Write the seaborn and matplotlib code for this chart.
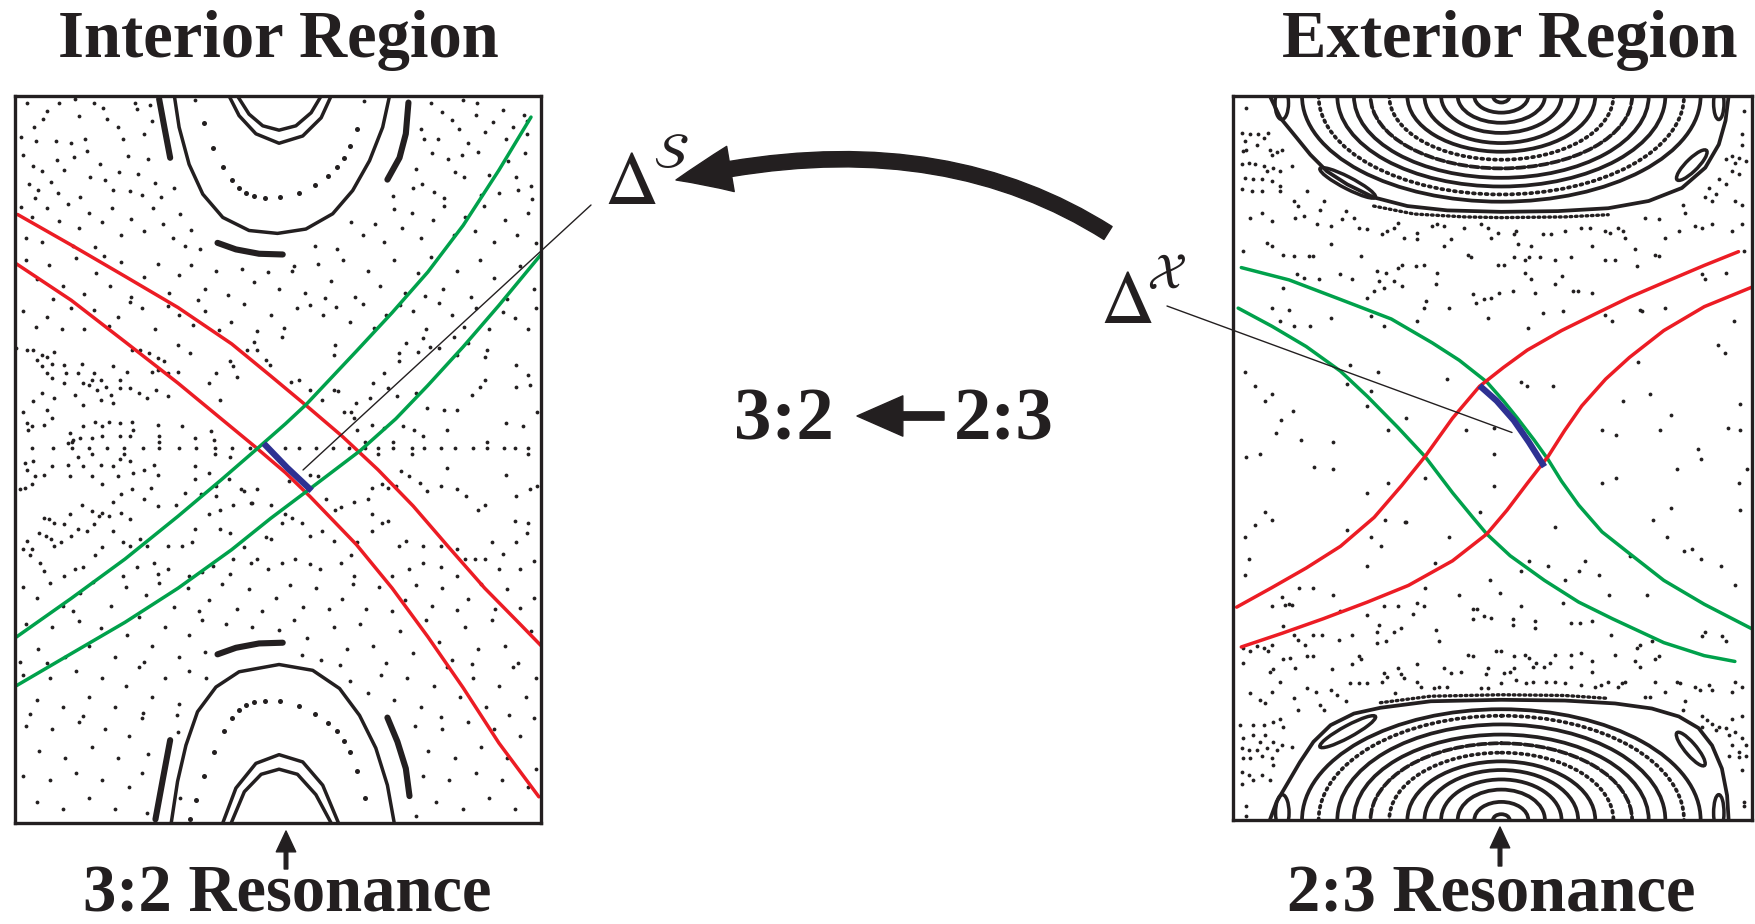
import numpy as np
import matplotlib
matplotlib.use("Agg")
import matplotlib.pyplot as plt
import seaborn as sns
from matplotlib.patches import Ellipse, FancyArrowPatch
from matplotlib.path import Path

sns.set_theme(style="white")
plt.rcParams['font.family'] = ['Liberation Serif', 'DejaVu Serif']
plt.rcParams['mathtext.fontset'] = 'stix'

BLACK = '#231f20'; RED = '#ec1c24'; GREEN = '#00a14b'; BLUE = '#2e3192'

# ============ DATA (panel units: 0-100 across, 0-100 down) ============
# ---- Interior region (left) ----
int_red1_u = [0.5, 10.7, 20.9, 31.0, 41.2, 48.6, 55.4, 62.2, 69.0, 75.7, 82.5, 89.3, 96.1, 100.0]
int_red1_v = [16.3, 20.5, 24.8, 29.1, 34.1, 38.5, 42.6, 46.8, 51.4, 56.4, 62.1, 67.7, 72.7, 75.6]
int_red2_u = [0.3, 10.7, 20.9, 31.0, 39.2, 45.9, 51.4, 56.1, 64.9, 71.7, 78.5, 85.2, 92.0, 99.6]
int_red2_v = [23.1, 28.1, 33.8, 39.5, 44.4, 48.4, 51.8, 55.1, 61.7, 67.7, 74.4, 81.4, 89.0, 96.4]
int_grn1_u = [0.3, 10.7, 20.9, 31.0, 39.2, 45.9, 51.4, 55.4, 64.9, 71.7, 78.5, 85.2, 92.0, 98.1]
int_grn1_v = [74.4, 69.1, 63.7, 57.8, 52.8, 48.6, 45.1, 42.4, 35.1, 29.8, 24.2, 17.8, 10.2, 2.9]
int_grn2_u = [0.3, 10.7, 20.9, 31.0, 41.2, 48.6, 55.4, 65.6, 72.4, 78.5, 85.2, 92.0, 100.0]
int_grn2_v = [81.1, 76.7, 72.4, 67.7, 62.4, 58.1, 54.4, 48.8, 44.4, 39.8, 34.5, 28.8, 21.8]
int_blue_u = [47.3, 51.7, 56.4]
int_blue_v = [47.8, 51.1, 54.3]

# top island (resonance at top edge)
top_arch_u = [30.3, 31.2, 33.1, 35.7, 39.5, 44.5, 49.9, 55.3, 60.4, 64.2, 67.4, 69.9, 71.2]
top_arch_v = [0.0, 4.3, 9.4, 13.5, 16.7, 18.5, 18.9, 18.3, 16.2, 13.0, 8.9, 4.3, 0.0]
top_in1_u = [40.7, 42.6, 45.8, 50.2, 54.7, 58.2, 60.1]
top_in1_v = [0.0, 2.7, 5.2, 6.5, 5.5, 3.0, 0.0]
top_in2_u = [42.3, 44.5, 47.1, 50.2, 53.4, 56.3, 58.2]
top_in2_v = [0.0, 2.5, 4.1, 4.7, 4.1, 2.3, 0.0]
top_ring_u = [35.9, 37.7, 39.6, 41.3, 42.6, 43.9, 45.5, 47.5, 50.4, 53.9, 57.1, 59.6, 61.3, 62.5, 63.7, 65.0]
top_ring_v = [3.7, 7.1, 9.8, 11.5, 12.7, 13.4, 13.8, 14.0, 13.9, 13.3, 12.2, 11.0, 9.8, 8.5, 6.9, 4.5]
top_cres_l_u = [27.4, 28.4, 29.5]; top_cres_l_v = [0.4, 4.3, 8.5]
top_cres_r_u = [74.8, 74.3, 73.1, 70.8]; top_cres_r_v = [0.9, 5.2, 8.5, 11.5]
top_cres_b_u = [38.5, 42.0, 46.4, 50.9]; top_cres_b_v = [20.2, 21.1, 21.7, 21.8]

# bottom island
bot_arch_u = [29.7, 30.9, 32.5, 34.7, 38.2, 42.6, 50.2, 56.6, 61.7, 65.5, 68.6, 70.8, 72.1]
bot_arch_v = [100.0, 94.3, 89.3, 84.7, 81.3, 79.2, 78.2, 79.0, 81.5, 85.2, 89.7, 94.8, 100.0]
bot_in1_u = [39.5, 42.0, 45.8, 50.2, 54.7, 58.5, 61.5]
bot_in1_v = [100.0, 95.2, 91.8, 90.6, 91.6, 94.8, 100.0]
bot_in2_u = [41.1, 43.6, 46.8, 50.2, 53.7, 57.2, 60.1]
bot_in2_v = [100.0, 95.7, 93.3, 92.6, 93.3, 96.1, 100.0]
bot_ring_u = [33.3, 34.4, 35.9, 37.8, 39.7, 41.3, 42.6, 43.9, 45.5, 47.5, 50.4, 53.9, 57.1, 59.6, 61.3, 62.5, 63.7, 65.0, 66.5]
bot_ring_v = [99.4, 96.8, 93.5, 90.2, 87.4, 85.6, 84.5, 83.8, 83.4, 83.2, 83.2, 83.9, 85.0, 86.2, 87.4, 88.7, 90.3, 92.8, 96.5]
bot_cres_l_u = [26.7, 28.1, 29.5]; bot_cres_l_v = [99.5, 94.0, 88.6]
bot_cres_r_u = [70.8, 72.7, 74.3, 75.0]; bot_cres_r_v = [85.5, 88.8, 92.5, 96.3]
bot_cres_t_u = [38.5, 42.0, 46.4, 50.9]; bot_cres_t_v = [76.8, 75.9, 75.3, 75.2]

# periodic chain of points across the middle
chain_u = [3.2, 7.2, 10.8, 14.1, 17.5, 20.8, 24.4, 27.4, 31.2, 34.5, 38.0, 41.3, 44.6, 51.3, 54.0,
           57.2, 60.5, 63.5, 66.5, 69.1, 71.8, 75.4, 77.7, 81.0, 83.7, 87.0, 89.7, 93.0, 95.0, 97.6,
           10.8, 20.8, 27.4, 38.0, 66.5, 69.1, 71.8, 75.4, 89.7, 97.6]
chain_v = [48.4] * 30 + [47.6, 49.2, 47.6, 49.2, 47.6, 49.2, 47.6, 49.2, 47.6, 49.2]

interior_dots = [
 (2.2,0.9),(6.0,2.0),(8.3,0.9),(11.4,0.4),(15.1,0.9),(16.8,1.6),(22.9,0.9),(23.1,1.8),(25.6,1.2),(34.3,0.6),
 (66.3,0.7),(79.1,0.9),(81.2,2.2),(85.2,0.6),(87.9,0.9),(87.6,2.6),(92.7,1.9),(96.7,2.6),(97.4,3.4),(3.6,4.2),
 (1.2,5.6),(3.9,6.2),(7.7,6.2),(10.7,6.5),(13.4,5.9),(17.5,3.2),(19.5,4.2),(20.5,5.9),(24.6,5.2),(77.1,4.6),
 (77.8,5.9),(80.5,5.9),(84.5,4.6),(86.2,6.5),(89.3,4.9),(93.4,5.9),(94.7,4.2),(97.4,5.2),(12.2,2.8),(5.3,3.1),
 (26.1,3.5),(83.0,3.3),(90.8,3.6),
 (1.5,8.1),(3.4,9.6),(5.2,10.3),(6.8,11.8),(2.6,12.1),(4.4,12.9),(9.3,10.2),(11.2,8.4),(13.7,7.6),(14.3,11.2),
 (16.1,9.3),(17.2,11.6),(18.6,12.9),(19.8,10.4),(21.9,13.1),(23.3,10.7),(24.1,13.6),(26.6,11.9),(25.2,8.6),(3.8,14.0),
 (8.2,13.4),(12.4,13.9),(7.9,8.8),(21.5,8.2),(27.8,13.9),(30.2,12.6),
 (75.6,12.6),(76.2,10.1),(77.4,12.1),(79.2,7.9),(79.6,13.2),(82.4,8.6),(84.9,8.1),(85.4,11.1),(88.1,7.7),(90.2,10.9),
 (92.1,13.4),(95.3,11.1),(95.6,12.9),(98.1,12.4),(98.2,14.1),(81.6,14.0),(88.6,13.6),(93.8,8.9),(96.9,7.8),(83.7,10.4),(71.8,13.8),
 (1.1,15.2),(3.2,16.6),(6.1,15.4),(8.4,17.2),(10.1,14.9),(12.2,18.1),(14.1,16.1),(16.6,17.4),(18.4,15.4),(20.2,19.1),
 (22.1,16.9),(24.6,18.6),(26.2,15.4),(28.1,17.6),(30.1,19.6),(32.4,20.6),(35.2,21.1),(2.1,19.6),(5.1,20.1),(11.1,20.6),
 (15.2,20.8),(31.4,16.2),(33.5,18.4),
 (66.2,19.1),(68.4,17.6),(70.2,20.1),(72.1,15.6),(73.6,18.1),(75.4,16.1),(77.1,19.6),(79.4,17.1),(81.6,15.1),(83.4,19.1),
 (85.6,16.6),(87.4,18.6),(89.1,15.1),(91.1,20.1),(93.1,17.1),(95.4,19.1),(97.6,16.1),(99.0,20.2),(57.1,20.6),(61.2,21.0),
 (53.0,23.4),(63.8,17.3),
 (2.0,22.5),(4.1,25.2),(6.4,23.3),(9.1,26.1),(11.6,22.3),(13.2,27.2),(15.4,24.4),(18.1,26.2),(20.2,22.8),(22.1,27.6),
 (24.6,24.9),(27.1,23.1),(29.2,27.1),(31.1,24.6),(33.4,23.2),(36.1,26.6),(38.2,24.1),(40.4,27.4),(43.2,23.8),(45.4,25.6),
 (48.1,24.2),(50.2,26.6),(52.6,24.1),(55.1,27.1),(57.6,23.1),(60.1,25.4),(62.4,22.6),(64.6,27.6),(67.1,24.1),(69.4,26.1),
 (72.1,22.6),(74.1,27.1),(76.6,24.4),(79.1,22.1),(81.4,26.6),(84.1,24.1),(86.6,27.6),(88.4,22.6),(91.1,25.1),(93.6,27.9),
 (96.1,23.4),(98.6,26.6),(7.2,27.9),(17.0,22.0),(34.8,28.0),(58.9,27.8),(78.0,27.5),
 (1.6,29.6),(6.1,30.4),(10.6,29.1),(13.1,32.1),(15.1,29.4),(19.6,30.4),(24.1,29.1),(26.6,32.1),(31.1,30.1),(36.1,29.6),
 (41.1,31.1),(43.6,28.6),(48.6,30.1),(53.6,29.1),(58.6,30.1),(63.6,31.1),(66.1,28.6),(70.6,30.1),(75.6,29.6),(78.1,32.1),
 (83.1,30.1),(87.6,29.1),(90.1,32.1),(95.1,30.6),(99.0,29.1),(4.0,31.8),(8.9,32.0),(17.8,31.7),(21.9,28.4),(29.0,28.9),
 (33.9,31.5),(38.8,32.2),(46.0,32.3),(51.2,31.9),(56.0,28.7),(61.1,29.0),(68.3,31.9),(73.1,28.8),(80.6,28.5),(85.4,31.8),
 (92.7,29.7),(97.6,32.0),
 (0.2,34.7),(2.2,34.9),(3.5,34.9),(4.2,36.3),(5.1,35.6),(6.1,35.9),(7.4,35.2),(7.1,36.8),(5.1,37.2),(6.1,38.1),
 (7.1,38.8),(9.4,37.0),(9.7,38.1),(9.4,39.5),(12.0,38.1),(12.7,36.8),(13.0,39.5),(14.0,39.7),(14.6,39.0),(15.0,38.1),
 (16.3,39.0),(15.6,40.4),(17.3,40.0),(18.3,41.1),(18.6,37.2),(19.9,39.0),(21.2,37.9),(22.2,34.9),(23.8,34.9),(25.5,35.4),
 (27.1,36.1),(28.4,36.5),(26.1,37.9),(27.1,37.7),(29.1,38.1),(31.0,37.9),(26.8,40.4),(29.1,41.3),(25.1,41.6),(23.5,40.9),
 (21.9,40.2),(19.9,40.2),(18.6,42.2),(16.3,41.8),(13.0,42.5),(11.4,41.1),(7.4,41.6),(6.1,43.2),(5.1,40.9),(3.5,42.0),
 (1.5,43.4),(2.2,45.0),(2.5,45.9),(3.2,45.4),(5.5,45.2),(7.1,44.3),(10.4,46.4),(10.1,47.7),(11.0,47.3),(13.0,45.4),
 (15.3,44.8),(16.6,45.4),(17.9,44.8),(19.9,45.0),(22.2,44.8),(22.5,45.9),(27.1,45.2),(27.4,46.8),(21.9,46.8),(19.9,46.8),
 (16.6,46.8),(14.6,47.0),(12.4,47.0),(1.9,50.5),(2.2,51.4),(3.5,50.2),(3.8,52.3),(3.2,53.4),(1.9,53.9),(0.9,54.1),
 (5.5,52.1),(7.1,50.9),(10.1,50.7),(10.4,52.3),(12.0,49.6),(14.6,49.3),(13.0,50.9),(16.3,50.7),(14.6,52.3),(16.6,53.4),
 (18.6,50.9),(19.9,50.0),(21.9,50.2),(19.6,52.3),(22.5,51.8),(24.5,51.4),(26.5,50.7),(27.1,52.1),(25.8,53.9),(22.2,54.1),
 (20.2,54.8),(18.6,55.9),(16.6,57.3),(14.6,57.1),(12.7,56.2),(10.4,57.5),(9.4,58.9),(7.4,58.7),(6.5,58.2),(5.5,58.0),
 (4.5,60.1),(5.8,60.5),(6.8,61.0),(2.2,61.2),(1.5,62.3),(3.2,62.3),(7.4,61.9),(8.7,61.4),(10.7,60.5),(12.0,59.6),
 (13.7,59.8),(15.0,58.9),(16.0,57.8),(17.9,57.8),(18.6,59.8),(20.2,57.3),(21.9,58.2),(24.5,55.5),(27.1,56.4),(30.7,56.2),
 (32.4,54.6),(34.3,52.7),(35.3,54.8),(38.3,55.0),(38.9,56.9),(41.5,56.2),(42.9,54.1),(44.8,56.0),(46.1,54.1),
 (31.0,34.3),(33.3,35.4),(36.9,39.5),(38.3,38.1),(38.9,41.8),(40.9,36.5),(41.5,37.2),(42.2,38.6),(44.2,34.9),(45.5,33.8),
 (46.1,34.9),(47.8,36.3),(48.4,37.0),(50.7,33.1),(52.4,39.3),(54.0,39.0),(56.0,40.4),(58.3,41.8),(60.6,40.4),(61.5,40.6),
 (60.6,35.6),(60.9,34.3),(62.5,43.4),(65.1,45.9),(67.4,41.6),(68.1,39.5),(70.1,38.1),(73.0,36.5),(73.0,35.4),(74.3,34.0),
 (76.6,35.2),(77.6,33.3),(78.9,34.5),(80.6,34.7),(83.5,33.1),(84.1,35.6),(86.1,34.0),(89.7,34.9),(89.4,35.9),(95.3,37.0),
 (97.6,38.4),(97.9,39.7),(95.3,40.0),(89.4,39.0),(88.4,40.0),(86.8,41.1),(84.1,43.2),(81.5,43.2),(78.3,42.9),(76.3,40.9),
 (72.7,41.3),(71.0,40.2),(64.8,42.2),(63.8,43.4),(64.5,44.3),(67.8,45.2),(70.1,45.7),(73.7,45.4),(75.9,45.9),(77.6,46.8),
 (82.2,45.9),(93.3,45.0),(96.6,45.4),(99.2,43.4),(31.7,45.4),(34.3,47.0),(37.3,46.1),(37.9,47.3),(40.9,49.6),
 (34.3,50.9),(36.9,51.8),(38.3,53.7),(40.6,52.7),(43.5,54.3),(45.1,56.0),(48.7,56.2),(51.4,57.5),(52.7,58.0),(52.0,53.0),
 (56.0,52.1),(57.6,52.3),(59.2,55.5),(60.9,56.9),(61.9,56.6),(64.5,55.9),(67.1,55.5),(67.8,53.9),(69.7,53.4),(71.0,53.9),
 (72.4,53.7),(73.3,51.6),(75.0,52.3),(77.0,53.2),(78.3,54.3),(80.9,53.7),(82.2,51.2),(84.1,54.1),(85.8,55.0),(88.1,56.9),
 (89.4,56.2),(93.3,52.1),(95.3,55.0),(97.9,54.1),(99.2,53.7),(95.0,58.5),(97.6,58.7),(97.3,60.1),(95.3,61.4),(92.7,63.0),
 (90.7,61.4),(89.4,63.7),(85.5,63.7),(84.1,62.3),(80.9,61.9),(77.6,61.9),(74.3,61.2),(73.0,61.9),(71.0,58.5),(69.7,58.7),
 (67.8,57.5),(67.8,59.8),(65.1,61.4),(63.8,63.2),(60.6,61.2),(58.3,59.8),(56.0,60.5),(54.6,58.7),(50.7,58.7),(48.7,61.0),
 (47.8,60.7),(46.1,63.7),(43.5,62.1),(41.5,63.7),(40.9,60.1),(38.9,59.6),(36.9,57.5),(34.3,59.6),(33.7,61.4),(31.7,61.9),
 (29.1,61.9),(26.5,64.2),(25.1,61.9),(23.8,61.0),(21.9,61.9),(20.6,61.4),(16.6,62.1),(15.3,63.2),(13.0,64.8),(11.4,65.1),
 (9.4,66.0),(5.5,65.3),(4.8,64.2),(2.9,63.2),(71.7,66.0),(75.0,65.1),(77.6,64.2),(80.9,64.8),(84.1,66.0),(87.4,63.7),
 (92.0,65.1),(96.0,65.1),(98.6,63.9),(64.5,66.0),(61.9,64.2),(57.9,65.1),(56.0,64.4),(53.3,63.7),(50.7,64.2),(48.1,65.1),
 (44.8,64.2),(40.9,65.8),(37.6,64.6),(35.6,65.5),(33.0,66.0),(29.1,65.1),(27.1,65.8),(23.2,64.8),(20.6,66.0),
 (1.5,67.6),(4.1,69.1),(6.6,67.0),(9.1,70.2),(12.4,68.3),(14.8,66.9),(18.2,70.1),(21.1,67.6),(24.9,68.7),(27.4,67.0),
 (30.3,70.3),(32.8,67.7),(36.8,69.3),(39.3,67.1),(42.2,70.6),(44.4,67.8),(49.6,69.1),(52.3,67.2),(54.8,70.3),(57.2,67.7),
 (62.1,69.2),(64.2,67.1),(66.7,70.6),(69.2,67.6),(74.1,69.3),(76.3,67.2),(79.2,70.1),(81.2,67.7),(86.2,69.2),(88.6,67.1),
 (91.2,70.5),(93.6,67.8),(98.6,69.1),(11.0,70.8),(34.9,70.9),(47.0,70.8),(59.7,70.6),(71.6,70.9),(84.0,70.7),(96.1,70.4),
 (2.1,72.6),(4.4,76.1),(7.1,73.1),(9.6,77.2),(12.1,72.2),(14.1,75.6),(16.4,73.2),(19.1,77.1),(21.2,74.1),(23.6,71.6),
 (26.1,75.6),(28.6,73.1),(31.1,77.1),(33.1,74.1),(35.6,72.1),(40.1,72.6),(45.1,73.1),(50.1,73.4),(53.1,72.1),(55.6,74.6),
 (58.1,77.6),(60.6,73.1),(63.1,76.1),(65.6,72.6),(68.1,75.6),(70.6,78.0),(73.1,73.6),(75.6,76.6),(78.1,72.1),(80.6,75.1),
 (83.1,77.6),(85.6,73.1),(88.1,76.1),(90.6,72.1),(93.1,75.6),(95.6,78.0),(98.1,73.6),(1.0,77.8),(6.0,78.0),(24.6,77.9),
 (36.2,76.5),(54.6,76.9),(61.8,78.3),(86.9,78.1),
 (1.6,79.6),(4.1,83.1),(6.6,80.1),(9.1,84.1),(11.6,79.1),(14.1,82.6),(16.6,80.1),(19.1,84.1),(21.1,81.1),(23.6,78.6),
 (26.1,82.6),(28.6,80.1),(31.1,83.6),(33.1,79.1),(36.4,80.0),(63.6,80.4),(67.1,82.1),(69.6,79.6),(72.1,83.1),(74.6,80.1),
 (77.1,84.1),(79.6,81.1),(82.1,78.6),(84.6,82.6),(87.1,80.1),(89.6,84.1),(92.1,81.1),(94.6,78.6),(97.1,82.6),(99.0,80.1),
 (2.9,85.0),(13.0,85.3),(24.4,84.9),(30.8,85.2),(80.9,85.4),(94.0,85.2),
 (2.1,86.6),(4.6,90.1),(7.1,87.1),(9.6,91.1),(12.1,86.1),(14.6,89.6),(17.1,87.1),(19.6,91.1),(21.6,88.1),(24.1,85.6),
 (25.3,90.5),(31.0,87.5),(76.1,86.6),(78.6,90.1),(81.1,87.1),(83.6,91.1),(86.1,86.1),(88.6,89.6),(91.1,87.1),(93.6,91.1),
 (96.1,88.1),(98.6,85.6),
 (1.6,93.6),(4.1,97.1),(6.6,94.1),(9.1,98.1),(11.6,93.1),(14.1,96.6),(16.6,94.1),(19.1,98.1),(21.6,95.1),(24.1,93.1),
 (25.1,98.6),(77.6,93.6),(80.1,97.1),(82.6,94.1),(85.1,98.1),(87.6,93.1),(90.1,96.6),(92.6,94.1),(95.1,98.1),(97.6,95.1),
 (99.0,92.6),(31.3,96.5),(76.3,99.0)]

# ---- Exterior region (right) ----
ext_grn1_u = [1.6, 10.8, 20.7, 30.5, 38.4, 43.6, 48.9, 52.1, 54.8, 58.0, 60.7, 63.3, 66.6, 71.1, 76.4, 83.0, 90.8, 100.0]
ext_grn1_v = [23.7, 25.4, 28.1, 30.8, 34.1, 36.5, 39.5, 42.1, 44.5, 47.5, 50.2, 53.2, 56.5, 60.2, 63.2, 66.9, 70.2, 73.6]
ext_grn2_u = [1.0, 7.5, 14.1, 20.7, 25.9, 31.8, 37.0, 42.3, 46.2, 48.9, 53.4, 60.0, 66.6, 73.1, 83.0, 90.8, 96.7]
ext_grn2_v = [29.3, 31.8, 34.6, 38.0, 41.5, 45.8, 49.8, 54.8, 58.2, 60.5, 63.5, 66.9, 69.9, 72.2, 75.5, 77.3, 78.1]
ext_red1_u = [0.7, 7.5, 14.1, 20.7, 27.2, 32.5, 37.0, 42.3, 47.5, 52.1, 56.7, 63.3, 69.8, 76.4, 82.9, 90.8, 97.4]
ext_red1_v = [70.6, 67.9, 65.2, 62.2, 58.2, 53.8, 49.8, 44.5, 40.1, 37.5, 35.1, 32.4, 30.1, 27.8, 25.8, 23.4, 21.5]
ext_red2_u = [1.6, 9.5, 17.4, 25.9, 33.8, 42.3, 48.9, 52.8, 56.7, 60.7, 63.9, 67.2, 71.8, 76.4, 83.0, 90.8, 100.0]
ext_red2_v = [76.1, 74.2, 72.2, 69.9, 67.6, 64.2, 60.5, 57.2, 53.5, 49.8, 46.2, 42.8, 39.1, 36.1, 32.4, 29.1, 26.4]
ext_blue_u = [47.5, 50.8, 54.1, 57.0, 60.0]
ext_blue_v = [40.0, 42.1, 44.8, 47.8, 51.2]

# concentric invariant curves around the 2:3 resonance (half-width, depth)
osc_center_u = 51.7
osc_half_width = [1.6, 5.2, 8.4, 11.6, 14.8, 18.1, 21.6, 25.2, 28.4, 31.6, 35.2, 38.4]
osc_depth_top = [0.9, 2.3, 3.7, 5.1, 6.5, 7.7, 8.8, 10.0, 11.3, 12.5, 13.6, 14.6]
osc_depth_bot = [0.8, 2.5, 4.2, 5.6, 6.9, 8.1, 9.3, 10.6, 11.8, 13.2, 14.4, 15.3]
osc_style = ['solid', 'solid', 'solid', 'solid', 'solid', 'solid', 'dotted', 'dashed', 'solid', 'solid', 'dotted', 'solid']

ext_top_sep_u = [7.1, 9.1, 12.3, 14.9, 18.1, 22.0, 27.1, 33.6, 41.3, 51.7, 62.6, 72.3, 80.1, 86.5, 91.0, 93.6, 94.9, 95.5]
ext_top_sep_v = [0.0, 3.0, 5.8, 8.1, 10.4, 12.2, 14.0, 15.2, 15.8, 16.0, 15.9, 15.5, 14.5, 12.7, 9.9, 6.7, 3.4, 0.0]
ext_top_chain_u = [27.1, 34.9, 44.6, 51.7, 63.9, 72.3]
ext_top_chain_v = [15.2, 16.3, 16.7, 16.8, 16.7, 16.4]
ext_bot_sep_u = [7.1, 8.4, 10.7, 12.9, 15.5, 18.8, 23.3, 28.4, 38.1, 51.7, 63.9, 73.6, 80.7, 85.9, 89.7, 92.3, 94.2, 95.2, 95.5]
ext_bot_sep_v = [100.0, 97.5, 94.7, 92.0, 89.2, 86.9, 85.3, 84.5, 83.6, 83.4, 83.5, 83.9, 84.6, 85.7, 87.3, 89.7, 92.9, 96.6, 100.0]
ext_bot_chain_u = [28.4, 38.1, 51.7, 63.9, 72.3]
ext_bot_chain_v = [83.8, 82.9, 82.7, 82.8, 83.2]

# secondary islands: centre u, centre v, length, thickness, tilt (deg)
isl_u = [9.4, 93.6, 22.1, 88.4, 9.5, 93.6, 22.1, 88.2]
isl_v = [1.0, 1.0, 12.0, 9.55, 99.0, 99.0, 87.8, 90.2]
isl_len = [2.6, 2.0, 11.4, 7.0, 2.6, 2.0, 11.5, 7.0]
isl_thk = [4.5, 4.5, 1.7, 1.9, 5.0, 5.0, 1.7, 1.9]
isl_tilt = [0, 0, 20, -34, 0, 0, -21, 39]

exterior_dots = [
 (2.3,38.1),(2.6,49.8),(5.2,49.5),(4.3,40.1),(6.2,42.1),(7.5,41.1),(8.2,46.5),(9.2,44.8),(11.5,43.5),(13.1,47.5),
 (15.7,51.2),(19.3,47.8),(19.3,51.5),(22.0,39.8),(22.6,37.1),(25.9,42.8),(26.6,40.8),(27.9,38.1),(29.8,46.2),(33.4,44.5),
 (29.8,53.5),(25.9,54.8),(33.4,58.9),(37.0,52.8),(41.3,39.1),(44.9,46.2),(47.5,57.5),(50.2,45.8),(50.2,49.5),(50.2,53.8),
 (55.4,39.5),(56.7,40.1),(61.6,40.1),(62.0,59.5),(71.1,46.2),(73.8,46.8),(71.1,53.5),(73.8,52.8),(75.1,42.1),(78.0,36.8),
 (80.3,41.1),(82.3,46.2),(84.3,44.1),(85.6,51.5),(89.5,48.8),(90.2,50.2),(93.4,34.4),(94.8,35.5),(95.4,45.8),(97.7,42.5),
 (97.7,46.2),(97.4,53.5),(97.7,57.2),(99.0,51.5),(84.3,56.9),(81.0,58.5),(83.6,60.9),(86.9,62.9),(88.5,62.5),(90.2,63.9),
 (94.1,64.9),(96.7,67.6),(2.3,60.9),(3.0,63.9),(4.3,59.2),(6.2,57.5),(7.5,58.5),(2.3,66.2),(9.5,69.2),(10.8,70.2),
 (12.8,67.9),(15.4,67.9),(19.3,68.9),(22.0,59.9),(26.6,60.9),(28.5,62.2),(29.2,58.5),(25.9,64.9),(33.1,58.9),(37.0,67.9),
 (39.0,64.5),(41.6,60.9),(43.6,68.9),(46.2,70.9),(49.5,66.9),(51.5,68.6),(55.4,65.6),(57.0,64.2),(60.7,64.9),(63.9,66.9),
 (66.6,65.6),(67.9,64.2),(70.5,66.2),(72.5,68.9),(76.4,63.5),(79.7,68.9),
 (1.7,5.1),(2.3,6.2),(3.3,5.3),(4.9,5.3),(5.9,5.8),(6.8,5.1),(2.0,7.6),(2.6,7.4),(4.6,6.7),(7.1,7.4),
 (7.5,8.1),(8.4,7.8),(9.4,7.4),(1.7,9.4),(3.0,9.2),(4.2,9.4),(5.9,9.7),(6.5,10.4),(7.8,9.9),(9.1,10.4),
 (11.3,9.7),(2.3,11.3),(3.9,11.5),(5.5,11.5),(7.5,11.7),(9.1,12.4),(1.7,12.9),(3.6,13.1),(5.5,13.1),(9.1,13.1),
 (11.7,14.5),(12.6,15.2),(14.2,13.1),(16.8,15.7),(21.7,15.9),(17.5,14.5),(3.3,16.8),(5.5,16.1),(7.5,17.3),(13.6,16.6),
 (12.0,16.8),(16.2,17.7),(18.8,17.9),(21.0,17.0),(23.3,16.8),
 (24.2,18.2),(25.9,18.4),(28.8,19.1),(29.7,18.7),(31.0,18.2),(31.7,17.5),(32.9,19.6),(35.5,18.9),(35.5,19.8),(38.4,18.0),
 (39.4,17.7),(40.7,18.0),(42.0,19.8),(44.6,18.2),(47.8,17.7),(49.1,18.2),(49.7,19.6),(51.0,18.9),(54.2,19.1),(54.6,18.7),
 (54.9,20.5),(57.5,20.7),(59.7,19.1),(61.3,19.1),(63.9,18.7),(67.1,18.2),(68.8,18.2),(71.7,18.7),(72.6,18.9),(74.2,18.2),
 (75.2,18.7),(75.5,19.6),(79.4,16.8),(82.0,17.0),(83.3,19.6),(85.9,18.7),(89.1,18.0),(90.4,18.2),(92.3,17.7),(96.2,18.7),
 (98.1,17.7),
 (2.0,21.4),(6.5,20.3),(7.5,20.7),(9.7,21.9),(11.7,22.1),(14.6,22.1),(15.5,22.1),(18.8,20.5),(24.6,22.1),(27.8,24.2),
 (29.4,24.4),(31.7,23.7),(32.6,23.3),(35.2,23.5),(36.8,23.3),(39.4,24.4),(40.7,20.7),(45.2,21.9),(45.9,22.3),(51.0,23.3),
 (52.3,23.3),(54.2,22.3),(56.2,22.6),(57.1,22.3),(59.1,22.3),(62.0,22.6),(65.2,22.3),(69.1,20.7),(71.7,22.6),(73.6,22.6),
 (77.5,21.2),(77.8,23.5),(81.3,21.9),(82.0,22.1),(90.4,24.6),(91.0,25.3),(94.9,24.4),(98.4,21.4),
 (9.7,26.5),(12.3,24.6),(13.6,25.1),(16.5,25.3),(20.7,24.6),(22.9,25.3),(25.9,27.9),(27.1,27.0),(28.1,25.6),(29.1,26.5),
 (31.0,25.6),(32.6,26.3),(37.1,28.3),(39.1,26.0),(41.7,29.3),(46.2,27.4),(46.8,28.6),(48.4,28.1),(49.7,27.9),(51.3,27.2),
 (53.9,27.0),(56.2,24.4),(57.5,25.3),(58.1,27.2),(62.0,26.0),(63.3,24.9),(65.5,27.0),(66.5,27.0),(69.1,27.2),(71.7,30.2),
 (73.0,31.1),(78.4,29.5),(78.8,29.7),(83.3,29.3),(96.5,31.1),(7.5,29.3),(10.7,29.5),(9.1,31.1),(11.7,31.8),(14.9,31.8),
 (18.8,30.6),(26.5,30.4),(29.1,31.8),(35.5,31.1),(36.8,29.3),(49.1,30.6),(56.8,32.0),(59.7,30.0),(63.6,29.7),
 (94.9,8.7),(96.2,8.3),(96.8,9.2),(97.5,8.5),(98.8,9.0),(96.2,10.4),(97.5,10.8),(93.6,11.5),(94.9,12.2),(91.7,12.7),
 (93.0,13.6),(91.0,14.0),(92.3,14.5),(96.8,14.5),(98.1,15.0),(86.8,15.0),(87.1,16.1),(98.4,2.1),(98.1,5.3),(98.1,6.7),(2.6,1.6),
 (7.5,70.4),(10.0,70.3),(11.3,70.3),(20.7,71.1),(25.9,71.7),(29.1,70.4),(31.7,70.4),(34.6,71.6),(35.5,70.0),(36.8,70.4),
 (46.2,72.3),(47.1,70.9),(48.4,71.8),(49.7,72.1),(53.9,72.3),(53.9,73.0),(55.5,70.4),(58.1,72.5),(58.1,73.5),(63.6,70.0),
 (65.2,72.8),(66.8,72.8),(69.1,72.5),(9.7,73.2),(28.1,73.0),(27.8,74.1),(31.0,74.1),(32.3,73.5),(39.1,73.7),(39.7,75.3),
 (27.8,75.5),(29.4,75.3),(20.4,75.1),(23.0,74.4),(11.7,74.4),(12.6,75.1),(13.9,75.8),(15.5,74.4),(17.1,74.4),(2.0,76.2),
 (3.3,76.7),(4.6,76.0),(5.9,76.2),(6.8,76.7),(7.5,75.8),(9.7,77.8),(11.0,77.6),(14.2,77.4),(15.5,77.4),(24.2,77.4),
 (24.6,77.8),(2.0,78.3),(7.1,79.5),(7.8,79.2),(12.0,79.0),(19.1,79.2),(23.0,78.5),(29.1,79.7),(29.7,80.2),(31.7,79.0),
 (32.3,79.9),(32.9,80.4),(35.5,78.5),(35.5,80.9),(40.7,79.0),(42.0,79.7),(43.9,79.5),(45.2,77.2),(46.2,77.4),(49.1,79.0),
 (48.8,79.9),(50.7,76.7),(51.7,76.7),(52.3,79.7),(53.3,79.5),(54.2,77.4),(54.2,79.0),(56.2,77.2),(57.1,77.6),(57.8,78.8),
 (58.4,78.3),(60.0,78.8),(61.0,78.3),(62.0,77.2),(65.2,77.2),(65.2,78.8),(67.1,76.9),(69.1,78.1),(69.1,79.5),(72.9,74.4),
 (73.6,77.2),(77.5,78.1),(78.4,78.8),(80.7,75.3),(81.3,77.8),(82.0,77.4),(77.8,76.2),(78.4,75.8),(90.4,74.6),(91.0,74.1),
 (94.2,74.6),(94.9,75.3),
 (3.3,82.5),(5.2,83.4),(6.2,83.9),(7.5,82.3),(9.1,80.9),(11.7,83.2),(12.6,84.8),(14.2,81.7),(15.9,82.3),(16.8,84.1),
 (17.5,84.8),(18.8,82.0),(20.0,82.7),(21.7,83.6),(22.6,81.1),(24.2,81.1),(25.9,81.1),(28.8,80.9),(31.3,82.5),(36.2,81.6),
 (38.8,81.8),(39.7,81.6),(41.3,81.6),(47.8,81.8),(49.1,81.8),(51.7,81.1),(54.6,80.6),(56.5,81.1),(57.8,80.9),(60.4,80.9),
 (62.0,80.9),(63.9,81.1),(67.1,81.3),(69.7,81.6),(71.0,81.3),(72.3,80.9),(74.2,81.6),(74.9,81.1),(75.5,80.9),(79.4,83.0),
 (80.4,83.0),(81.3,80.9),(83.3,82.3),(85.5,80.9),(86.2,81.1),(87.1,83.6),(86.8,84.8),(89.1,81.6),(90.0,82.0),(91.7,81.3),
 (92.3,82.0),(96.2,82.3),(96.8,80.9),(98.1,81.6),
 (1.3,86.9),(3.9,86.9),(5.9,86.9),(7.8,86.4),(9.1,86.0),(9.7,87.1),(2.0,88.7),(3.9,88.3),(5.2,89.2),(6.2,88.3),
 (7.8,89.2),(9.4,89.7),(11.3,89.9),(1.7,90.1),(3.0,90.4),(4.6,90.4),(6.5,90.1),(8.4,90.4),(2.0,91.5),(3.3,91.5),
 (5.5,91.1),(7.5,91.5),(7.8,92.4),(1.7,93.4),(3.0,93.8),(3.9,94.5),(5.5,93.8),(7.1,94.5),(1.7,95.0),(2.6,98.0),(2.6,99.4),
 (90.4,85.7),(91.3,86.2),(92.3,86.7),(93.6,87.1),(94.9,87.3),(96.2,86.0),(98.1,85.7),(90.4,87.1),(93.0,87.6),(95.5,88.3),
 (96.8,87.8),(98.1,88.7),(96.2,89.7),(97.5,90.6),(98.8,89.7),(95.5,91.1),(97.5,91.3),(98.8,91.1),(98.1,93.1),(98.4,97.5),(98.4,98.0)]

# ---- text ----
title_left = "Interior Region"
title_right = "Exterior Region"
label_left = "3:2 Resonance"
label_right = "2:3 Resonance"
mid_left = "3:2"
mid_right = "2:3"
delta_sym = r'$\Delta$'
sup_s = r'$\mathcal{S}$'
sup_x = r'$\mathcal{X}$'

# ============ DRAWING ============
fig = plt.figure(figsize=(17.56, 9.24), dpi=100)
fig.patch.set_facecolor('white')
axL = fig.add_axes([15/1756, 1-823/924, 526/1756, 727/924])
axR = fig.add_axes([1233/1756, 1-820/924, 519/1756, 724/924])


def line(ax, u, v, color=BLACK, lw=1.8, z=3, **kw):
    sns.lineplot(x=u, y=v, ax=ax, sort=False, estimator=None, color=color,
                 linewidth=lw, zorder=z, legend=False, **kw)


def dots(ax, pts_u, pts_v, s=7.5, z=2):
    sns.scatterplot(x=pts_u, y=pts_v, ax=ax, s=s, color=BLACK, linewidth=0,
                    zorder=z, legend=False)

# ---- left panel ----
du = [p[0] for p in interior_dots]; dv = [p[1] for p in interior_dots]
dots(axL, du, dv)
dots(axL, chain_u, chain_v)
for u, v in [(top_arch_u, top_arch_v), (top_in1_u, top_in1_v), (top_in2_u, top_in2_v),
             (bot_arch_u, bot_arch_v), (bot_in1_u, bot_in1_v), (bot_in2_u, bot_in2_v)]:
    line(axL, u, v, lw=2.5)
for u, v in [(top_cres_l_u, top_cres_l_v), (top_cres_r_u, top_cres_r_v), (top_cres_b_u, top_cres_b_v),
             (bot_cres_l_u, bot_cres_l_v), (bot_cres_r_u, bot_cres_r_v), (bot_cres_t_u, bot_cres_t_v)]:
    line(axL, u, v, lw=4.4, solid_capstyle='round')
dots(axL, top_ring_u, top_ring_v, s=13)
dots(axL, bot_ring_u, bot_ring_v, s=13)
line(axL, int_red1_u, int_red1_v, RED, 2.5, 4)
line(axL, int_red2_u, int_red2_v, RED, 2.5, 4)
line(axL, int_grn1_u, int_grn1_v, GREEN, 2.5, 4)
line(axL, int_grn2_u, int_grn2_v, GREEN, 2.5, 4)
line(axL, int_blue_u, int_blue_v, BLUE, 4.5, 5, solid_capstyle='butt')

# ---- right panel ----
du = [p[0] for p in exterior_dots]; dv = [p[1] for p in exterior_dots]
dots(axR, du, dv)
style_map = {'solid': '-', 'dotted': (0, (0.5, 1.2)), 'dashed': (0, (2.2, 0.9))}
for hw, dt, db, st in zip(osc_half_width, osc_depth_top, osc_depth_bot, osc_style):
    for cv, dd in [(0.0, dt), (100.0, db)]:
        e = Ellipse((osc_center_u, cv), 2*hw, 2*dd, fill=False, ec=BLACK, lw=2.7,
                    ls=style_map[st], capstyle='round', zorder=3)
        axR.add_patch(e)
line(axR, ext_top_sep_u, ext_top_sep_v, lw=2.7)
line(axR, ext_bot_sep_u, ext_bot_sep_v, lw=2.7)
line(axR, ext_top_chain_u, ext_top_chain_v, lw=2.4, linestyle=(0, (0.5, 1.1)), dash_capstyle='round')
line(axR, ext_bot_chain_u, ext_bot_chain_v, lw=2.4, linestyle=(0, (0.5, 1.1)), dash_capstyle='round')
for cu, cv, ln, th, tl in zip(isl_u, isl_v, isl_len, isl_thk, isl_tilt):
    axR.add_patch(Ellipse((cu, cv), ln, th, angle=tl, fill=False, ec=BLACK, lw=2.5, zorder=3))
line(axR, ext_grn1_u, ext_grn1_v, GREEN, 2.5, 4)
line(axR, ext_grn2_u, ext_grn2_v, GREEN, 2.5, 4)
line(axR, ext_red1_u, ext_red1_v, RED, 2.5, 4)
line(axR, ext_red2_u, ext_red2_v, RED, 2.5, 4)
line(axR, ext_blue_u, ext_blue_v, BLUE, 4.5, 5, solid_capstyle='butt')

for ax in (axL, axR):
    ax.set_xlim(0, 100); ax.set_ylim(100, 0)
    ax.set_xticks([]); ax.set_yticks([])
    ax.set_xlabel(''); ax.set_ylabel('')
    ax.set_facecolor('white')
    for s in ax.spines.values():
        s.set_visible(True); s.set_linewidth(2.4); s.set_color(BLACK); s.set_zorder(6)

# ---- overlay annotations (figure pixel units) ----
ov = fig.add_axes([0, 0, 1, 1], zorder=10)
ov.set_xlim(0, 1756); ov.set_ylim(924, 0); ov.axis('off'); ov.patch.set_alpha(0)

tkw = dict(fontsize=48, fontweight='bold', color=BLACK, ha='center', va='baseline')
ov.text(278, 57, title_left, **tkw)
ov.text(1510, 57, title_right, **tkw)
ov.text(287, 911, label_left, **tkw)
ov.text(1491, 911, label_right, **tkw)
ov.text(784, 440, mid_left, fontsize=54, fontweight='bold', color=BLACK, ha='center', va='baseline')
ov.text(1004, 440, mid_right, fontsize=54, fontweight='bold', color=BLACK, ha='center', va='baseline')
ov.text(604, 204, delta_sym, fontsize=54, color=BLACK, ha='left', va='baseline')
ov.text(653, 168, sup_s, fontsize=36, color=BLACK, ha='left', va='baseline')
ov.text(1100, 323, delta_sym, fontsize=54, color=BLACK, ha='left', va='baseline')
ov.text(1147, 288, sup_x, fontsize=36, color=BLACK, ha='left', va='baseline')

big = Path([(1108, 233), (930, 120), (676, 180)], [Path.MOVETO, Path.CURVE3, Path.CURVE3])
ov.add_patch(FancyArrowPatch(path=big, arrowstyle='simple,head_length=40,head_width=33,tail_width=11',
                             mutation_scale=1, color=BLACK, transform=ov.transData))
ov.add_patch(FancyArrowPatch(posA=(944, 416), posB=(857, 416),
                             arrowstyle='simple,head_length=33,head_width=29,tail_width=6',
                             mutation_scale=1, shrinkA=0, shrinkB=0, color=BLACK))
for x, y0, y1 in [(286, 869, 831), (1500, 866, 827)]:
    ov.add_patch(FancyArrowPatch(posA=(x, y0), posB=(x, y1),
                                 arrowstyle='simple,head_length=15,head_width=14,tail_width=2.6',
                                 mutation_scale=1, shrinkA=0, shrinkB=0, color=BLACK))
ov.plot([591, 303], [205, 470], color=BLACK, lw=1.0)
ov.plot([1167, 1512], [306, 432.5], color=BLACK, lw=1.0)

fig.savefig('out.png', dpi=100, facecolor='white')
